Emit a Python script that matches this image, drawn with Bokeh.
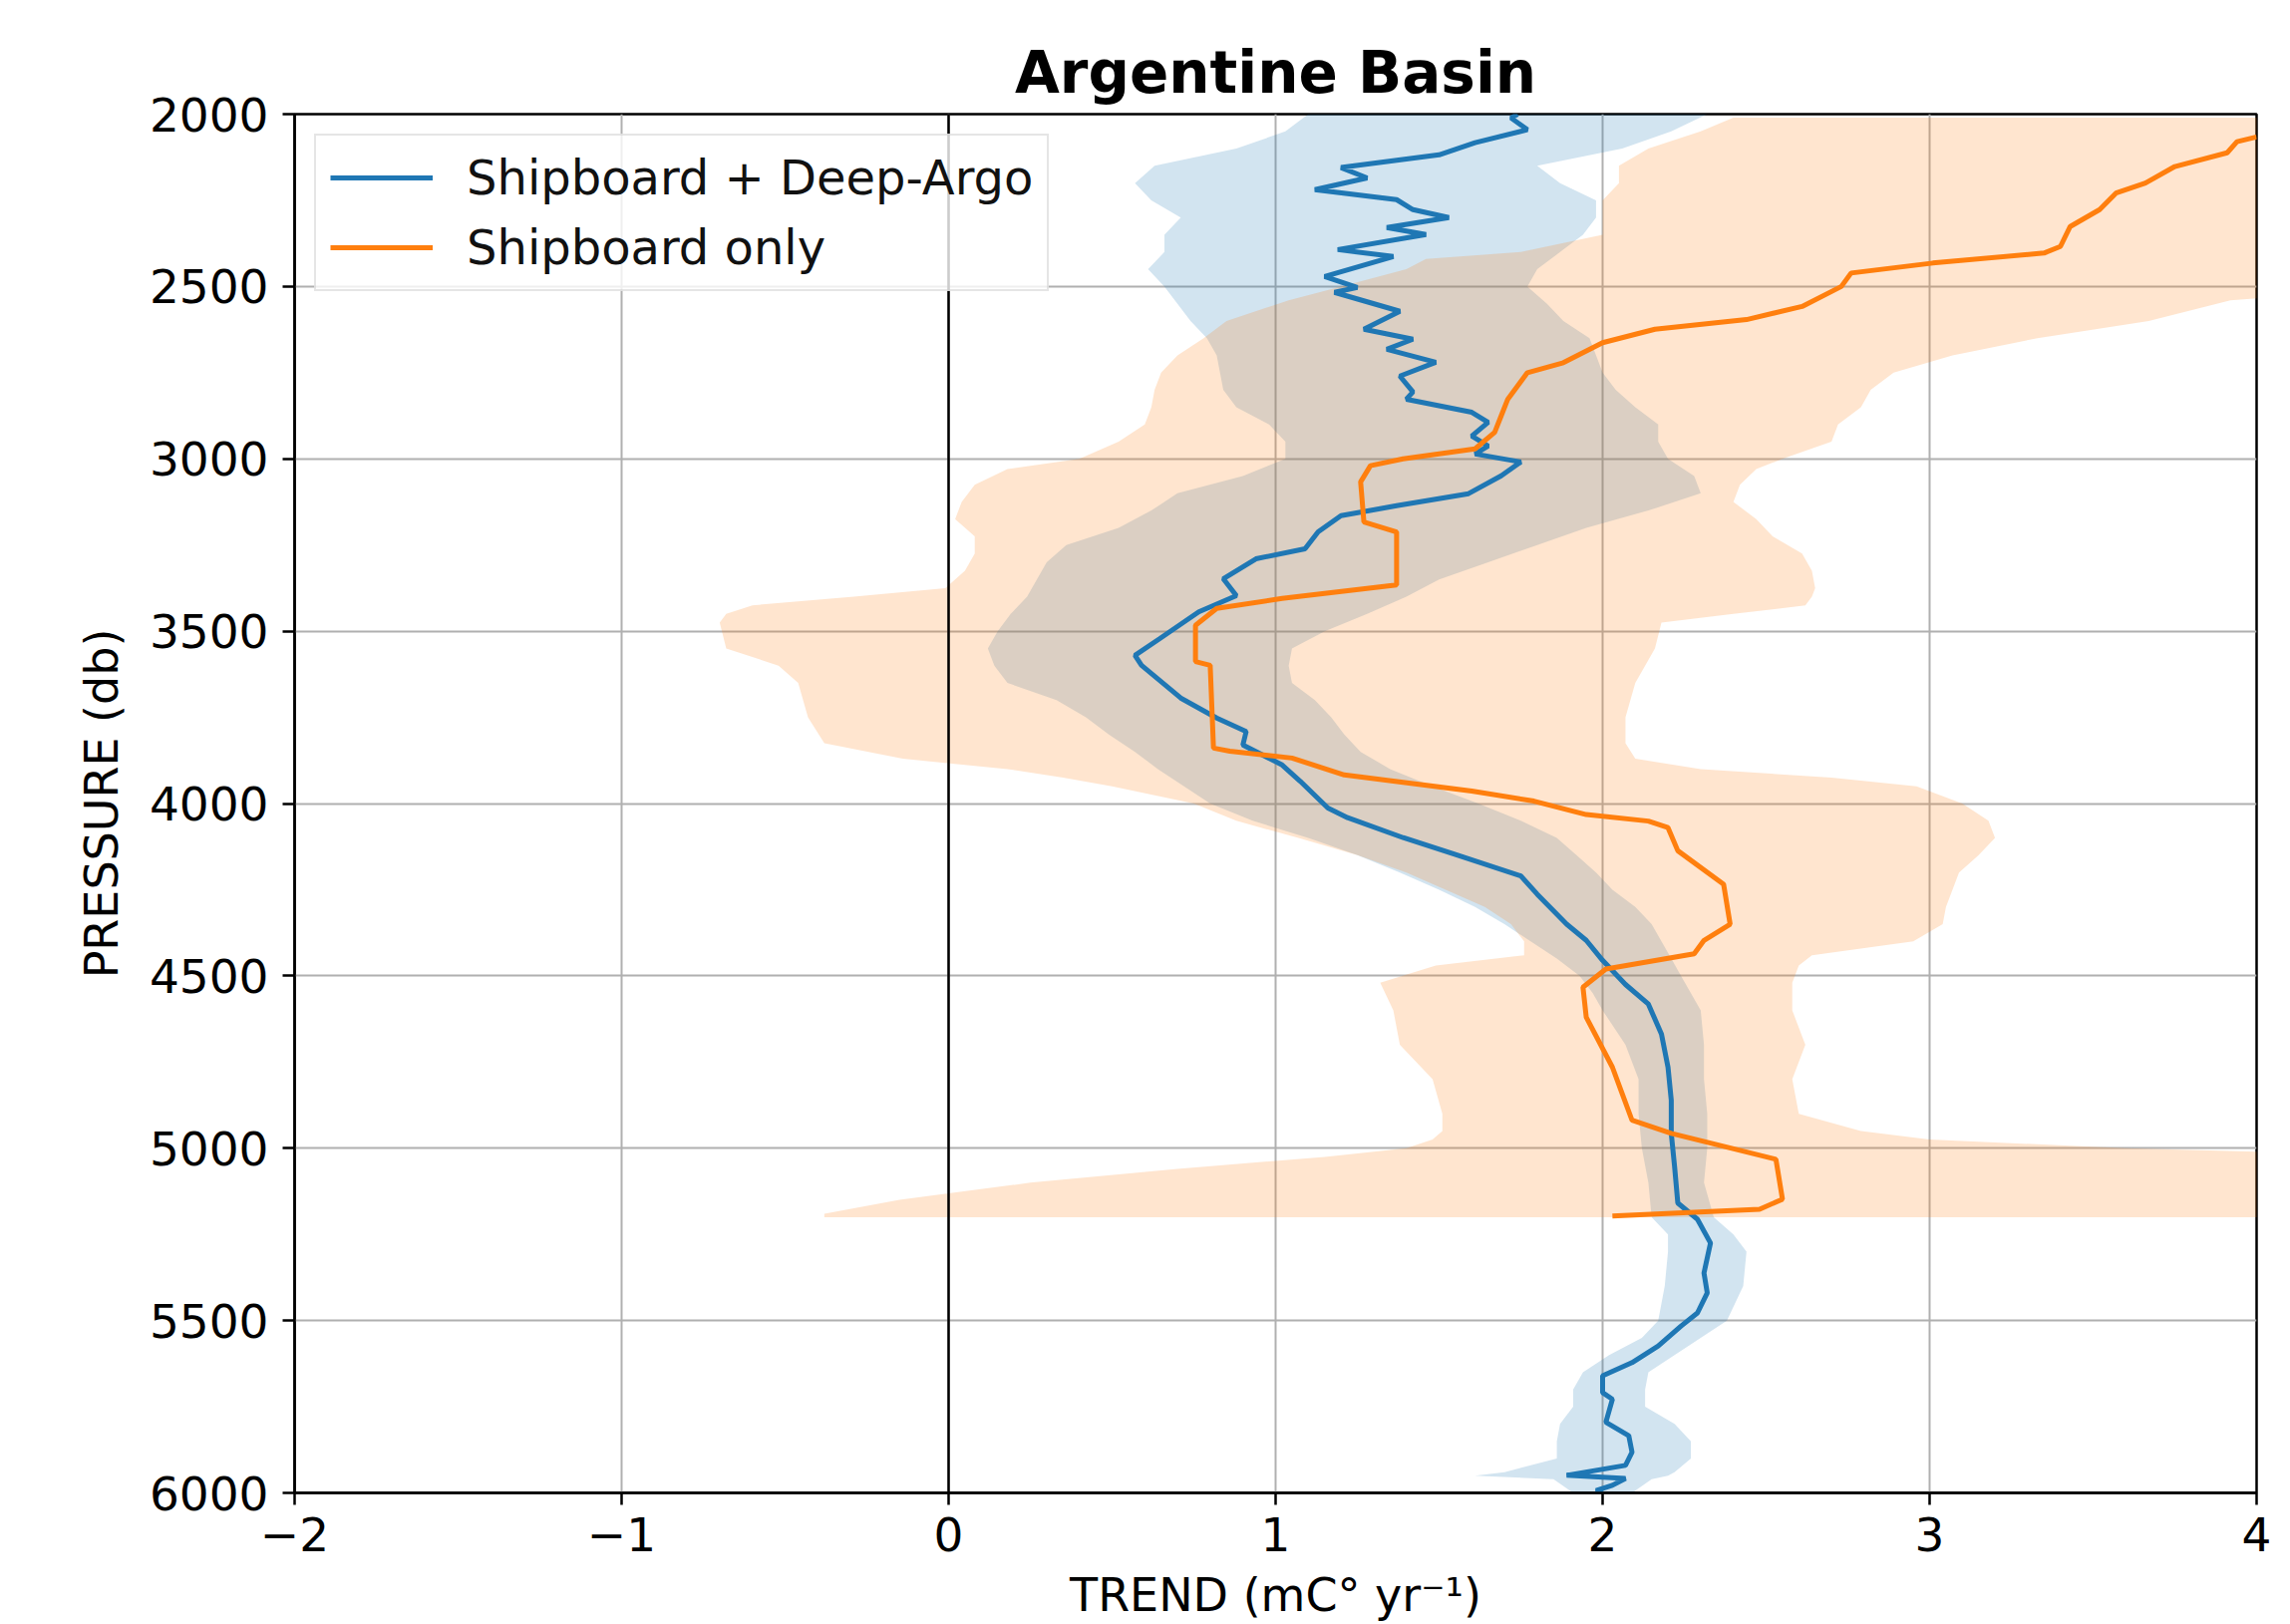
from bokeh.plotting import figure
from bokeh.models import Range1d, FixedTicker, Span, Legend, LegendItem
from bokeh.embed import file_html
from bokeh.resources import INLINE

# ---------------- data ----------------
title_text = "Argentine Basin"
x_label = "TREND (mC\u00b0 yr\u207b\u00b9)"
y_label = "PRESSURE (db)"
x_ticks = [-2, -1, 0, 1, 2, 3, 4]
y_ticks = [2000, 2500, 3000, 3500, 4000, 4500, 5000, 5500, 6000]

# Shipboard + Deep-Argo (blue)
blue_p = [2000, 2011, 2045, 2083, 2118, 2155, 2185, 2219, 2248, 2277, 2300, 2329, 2349, 2393, 2413,
          2471, 2503, 2517, 2572, 2624, 2653, 2682, 2720, 2760, 2806, 2827, 2865, 2894, 2934, 2963,
          2986, 3009, 3049, 3101, 3136, 3165, 3212, 3261, 3290, 3348, 3397, 3444, 3522, 3570, 3599,
          3694, 3752, 3791, 3830, 3888, 3935, 4013, 4041, 4099, 4148, 4210, 4263, 4350, 4397, 4455,
          4525, 4582, 4669, 4765, 4861, 4957, 5052, 5159, 5206, 5275, 5362, 5420, 5478, 5516, 5574,
          5622, 5660, 5709, 5728, 5795, 5834, 5882, 5920, 5949, 5958, 5978, 5993, 6000]
blue_x = [1.74, 1.72, 1.77, 1.61, 1.50, 1.20, 1.28, 1.12, 1.37, 1.42, 1.53, 1.34, 1.46, 1.19, 1.36,
          1.15, 1.25, 1.18, 1.38, 1.27, 1.42, 1.34, 1.49, 1.38, 1.42, 1.40, 1.60, 1.65, 1.60, 1.65,
          1.61, 1.75, 1.69, 1.59, 1.37, 1.20, 1.13, 1.09, 0.94, 0.84, 0.88, 0.765, 0.645, 0.57, 0.59,
          0.71, 0.82, 0.91, 0.90, 1.02, 1.075, 1.16, 1.22, 1.39, 1.55, 1.75, 1.80, 1.89, 1.95, 2.00,
          2.07, 2.14, 2.18, 2.20, 2.21, 2.21, 2.22, 2.23, 2.29, 2.33, 2.31, 2.32, 2.29, 2.24, 2.17,
          2.09, 2.00, 2.00, 2.03, 2.01, 2.08, 2.09, 2.07, 1.89, 2.07, 2.03, 1.98, 2.00]

blue_band_p = [2000, 2050, 2100, 2150, 2200, 2250, 2300, 2350, 2400, 2450, 2500, 2550, 2600, 2650,
               2700, 2750, 2800, 2850, 2900, 2950, 3000, 3050, 3100, 3150, 3200, 3250, 3300, 3350,
               3400, 3450, 3500, 3550, 3600, 3650, 3700, 3750, 3800, 3850, 3900, 3950, 4000, 4050,
               4100, 4150, 4200, 4250, 4300, 4350, 4400, 4450, 4500, 4550, 4600, 4700, 4800, 4900,
               5000, 5100, 5200, 5250, 5300, 5400, 5500, 5550, 5600, 5650, 5700, 5750, 5800, 5850,
               5900, 5940, 5950, 5960, 6000]
blue_band_lo = [1.10, 1.03, 0.88, 0.63, 0.57, 0.62, 0.71, 0.66, 0.66, 0.61, 0.66, 0.70, 0.74, 0.79,
                0.82, 0.83, 0.84, 0.88, 0.98, 1.03, 1.03, 0.90, 0.70, 0.62, 0.52, 0.36, 0.30, 0.27,
                0.24, 0.19, 0.15, 0.12, 0.14, 0.18, 0.33, 0.42, 0.49, 0.57, 0.64, 0.72, 0.80, 0.93,
                1.10, 1.25, 1.38, 1.50, 1.61, 1.70, 1.78, 1.86, 1.93, 1.97, 2.00, 2.07, 2.11, 2.11,
                2.12, 2.14, 2.15, 2.20, 2.20, 2.19, 2.17, 2.12, 2.02, 1.94, 1.91, 1.91, 1.87, 1.86,
                1.86, 1.70, 1.61, 1.85, 1.91]
blue_band_hi = [2.32, 2.21, 2.06, 1.80, 1.87, 1.98, 1.98, 1.94, 1.87, 1.80, 1.77, 1.83, 1.88, 1.96,
                1.98, 2.00, 2.04, 2.10, 2.17, 2.17, 2.20, 2.28, 2.30, 2.14, 1.95, 1.80, 1.65, 1.50,
                1.40, 1.28, 1.15, 1.05, 1.04, 1.05, 1.12, 1.17, 1.21, 1.26, 1.35, 1.48, 1.62, 1.75,
                1.86, 1.92, 1.98, 2.03, 2.10, 2.15, 2.18, 2.21, 2.24, 2.27, 2.30, 2.31, 2.31, 2.32,
                2.32, 2.31, 2.34, 2.40, 2.44, 2.43, 2.38, 2.30, 2.22, 2.14, 2.13, 2.13, 2.22, 2.27,
                2.27, 2.22, 2.20, 2.15, 2.09]

# Shipboard only (orange)
orange_p = [2066, 2080, 2112, 2152, 2200, 2229, 2277, 2326, 2384, 2403, 2432, 2461, 2500, 2558, 2596,
            2624, 2663, 2721, 2750, 2827, 2875, 2923, 2971, 3000, 3020, 3067, 3183, 3212, 3366, 3405,
            3434, 3483, 3588, 3599, 3839, 3848, 3868, 3917, 3964, 3993, 4032, 4051, 4070, 4137, 4234,
            4350, 4397, 4436, 4480, 4533, 4620, 4765, 4842, 4919, 4957, 5032, 5148, 5177, 5197]
orange_x = [4.00, 3.94, 3.91, 3.75, 3.66, 3.57, 3.52, 3.43, 3.40, 3.35, 3.01, 2.76, 2.73, 2.61, 2.44,
            2.16, 2.00, 1.88, 1.77, 1.71, 1.69, 1.67, 1.61, 1.39, 1.29, 1.26, 1.27, 1.37, 1.37, 1.02,
            0.82, 0.755, 0.755, 0.80, 0.81, 0.86, 1.05, 1.21, 1.60, 1.79, 1.95, 2.14, 2.20, 2.23, 2.37,
            2.39, 2.31, 2.28, 2.01, 1.94, 1.95, 2.03, 2.06, 2.09, 2.21, 2.53, 2.55, 2.48, 2.03]

orange_band_p = [2010, 2050, 2100, 2150, 2200, 2250, 2300, 2350, 2400, 2420, 2450, 2500, 2540, 2600,
                 2650, 2700, 2750, 2800, 2850, 2900, 2950, 3000, 3030, 3075, 3125, 3175, 3225, 3275,
                 3325, 3375, 3400, 3425, 3450, 3475, 3550, 3600, 3650, 3750, 3825, 3870, 3900, 3925,
                 3950, 4000, 4050, 4100, 4150, 4200, 4250, 4300, 4350, 4400, 4440, 4470, 4520, 4600,
                 4700, 4800, 4900, 4950, 4975, 5000, 5025, 5060, 5100, 5150, 5190, 5200]
orange_band_lo = [2.40, 2.30, 2.14, 2.05, 2.05, 2.00, 2.00, 2.00, 1.75, 1.46, 1.40, 1.20, 1.04, 0.85,
                  0.78, 0.70, 0.65, 0.63, 0.62, 0.60, 0.52, 0.40, 0.18, 0.08, 0.04, 0.02, 0.08, 0.08,
                  0.05, -0.01, -0.29, -0.60, -0.68, -0.70, -0.68, -0.52, -0.46, -0.43, -0.38, -0.14,
                  0.18, 0.35, 0.50, 0.75, 0.88, 1.07, 1.25, 1.40, 1.52, 1.64, 1.72, 1.76, 1.76, 1.49,
                  1.32, 1.36, 1.38, 1.48, 1.51, 1.51, 1.48, 1.40, 1.15, 0.70, 0.25, -0.15, -0.38, -0.38]
orange_band_hi = [4.6, 4.6, 4.6, 4.6, 4.6, 4.6, 4.6, 4.6, 4.6, 4.6, 4.6, 4.5, 3.92, 3.67,
                  3.33, 3.07, 2.89, 2.82, 2.79, 2.72, 2.70, 2.55, 2.47, 2.42, 2.40, 2.47, 2.52, 2.61,
                  2.64, 2.65, 2.64, 2.62, 2.40, 2.18, 2.16, 2.13, 2.10, 2.07, 2.07, 2.10,
                  2.30, 2.70, 2.96, 3.10, 3.18, 3.20, 3.15, 3.09, 3.07, 3.05, 3.04, 2.95, 2.64, 2.60,
                  2.58, 2.58, 2.62, 2.58, 2.60, 2.79, 3.0, 3.6, 4.6, 4.6, 4.6, 4.6, 4.6, 4.6]

BLUE = "#1f77b4"
ORANGE = "#ff7f0e"
FONT = "DejaVu Sans"

# ---------------- figure ----------------
p = figure(width=2297, height=1629,
           x_range=Range1d(-2, 4), y_range=Range1d(6000, 2000),
           output_backend="svg", toolbar_location=None,
           min_border_left=295, min_border_right=34,
           min_border_top=114, min_border_bottom=132)

p.title.text = title_text
p.title.align = "center"
p.title.text_font = FONT
p.title.text_font_style = "bold"
p.title.text_font_size = "58px"
p.title.text_color = "black"
p.title.standoff = 15

p.background_fill_color = "white"
p.border_fill_color = "white"
p.outline_line_color = "black"
p.outline_line_width = 2.5
p.outline_line_alpha = 1.0

# bands
p.harea(x1=blue_band_lo, x2=blue_band_hi, y=blue_band_p, fill_color=BLUE, fill_alpha=0.2)
p.harea(x1=orange_band_lo, x2=orange_band_hi, y=orange_band_p, fill_color=ORANGE, fill_alpha=0.2)

# zero line
p.add_layout(Span(location=0, dimension="height", line_color="black", line_width=2.5))

# lines
bl = p.line(blue_x, blue_p, line_color=BLUE, line_width=5)
ol = p.line(orange_x, orange_p, line_color=ORANGE, line_width=5)

# axes
p.xaxis.ticker = FixedTicker(ticks=x_ticks)
p.yaxis.ticker = FixedTicker(ticks=y_ticks)
p.xaxis.major_label_overrides = {t: (("\u2212" + str(abs(t))) if t < 0 else str(t)) for t in x_ticks}
p.xaxis.axis_label = x_label
p.yaxis.axis_label = y_label
for ax in (p.xaxis, p.yaxis):
    ax.axis_label_text_font = FONT
    ax.axis_label_text_font_style = "normal"
    ax.axis_label_text_font_size = "46px"
    ax.axis_label_text_color = "black"
    ax.major_label_text_font = FONT
    ax.major_label_text_font_size = "47px"
    ax.major_label_text_color = "black"
    ax.axis_line_color = "black"
    ax.axis_line_width = 2.5
    ax.major_tick_line_color = "black"
    ax.major_tick_line_width = 2.5
    ax.major_tick_out = 12
    ax.major_tick_in = 0
    ax.minor_tick_line_color = None
p.xaxis.major_label_standoff = 12
p.xaxis.axis_label_standoff = 14
p.yaxis.major_label_standoff = 14
p.yaxis.axis_label_standoff = 18

for g in (p.xgrid, p.ygrid):
    g.grid_line_color = "#b0b0b0"
    g.grid_line_width = 2

# legend
legend = Legend(items=[LegendItem(label="Shipboard + Deep-Argo", renderers=[bl]),
                       LegendItem(label="Shipboard only", renderers=[ol])],
                location="top_left")
legend.margin = 20
legend.padding = 14
legend.spacing = 14
legend.glyph_width = 103
legend.glyph_height = 52
legend.label_height = 52
legend.label_standoff = 34
legend.label_text_font = FONT
legend.label_text_font_size = "48px"
legend.label_text_color = "#111111"
legend.border_line_color = "#cccccc"
legend.border_line_width = 2
legend.background_fill_color = "white"
legend.background_fill_alpha = 0.8
p.add_layout(legend)

open("out.html", "w").write(file_html(p, INLINE))
